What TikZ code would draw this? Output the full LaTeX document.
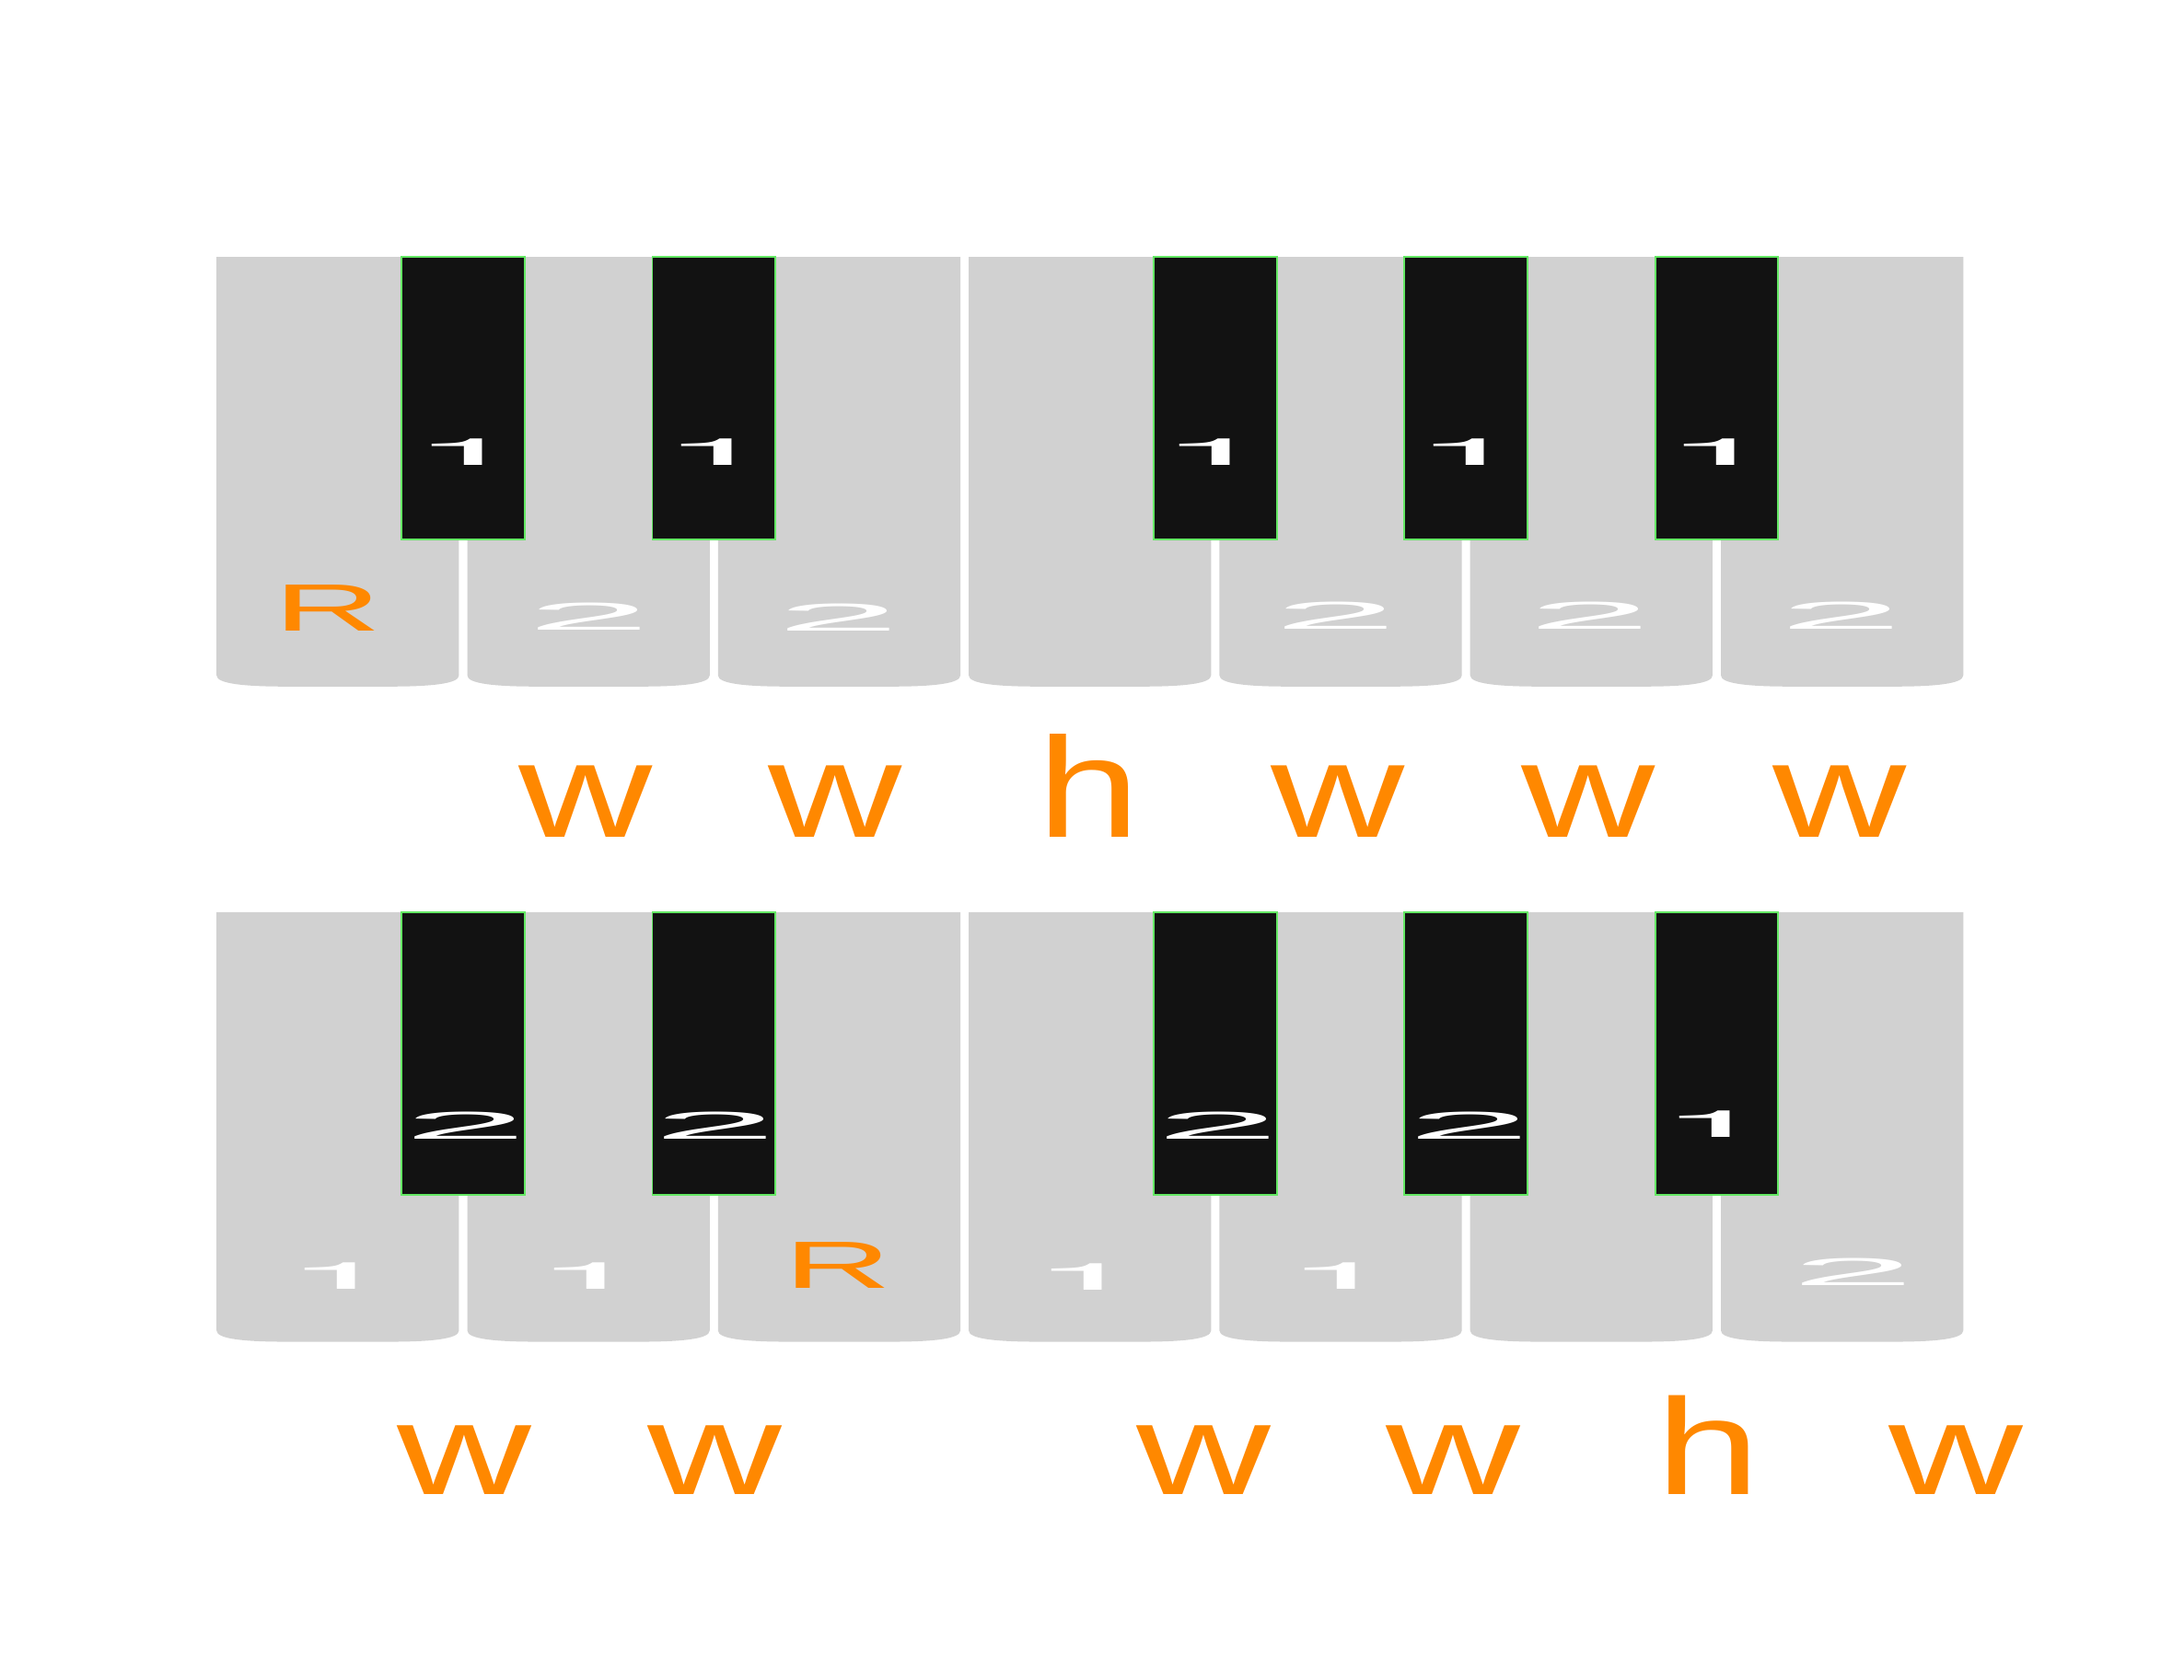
\documentclass[tikz,border=0pt]{standalone}
\usepackage{fontspec}
\setmainfont{Liberation Sans}
\newfontfamily\herosfont{TeX Gyre Heros}
\usepackage{graphicx}
\definecolor{keygray}{RGB}{209,209,209}
\definecolor{keyblack}{RGB}{18,18,18}
\definecolor{keygreen}{RGB}{100,232,100}
\definecolor{lblorange}{RGB}{255,136,0}
% white key: #1 left x, #2 top y
\newcommand\wkey[2]{%
  \fill[keygray] (#1,#2) -- (#1+174,#2) -- (#1+174,#2+300.5)
    .. controls (#1+174,#2+306.5) and (#1+154,#2+308.5) .. (#1+124,#2+308.5)
    -- (#1+50,#2+308.5)
    .. controls (#1+20,#2+308.5) and (#1,#2+306.5) .. (#1,#2+300.5) -- cycle;}
% black key: #1 left x, #2 top y
\newcommand\bkey[2]{%
  \filldraw[fill=keyblack, draw=keygreen, line width=1.2pt]
    (#1+0.6,#2) rectangle (#1+88.9,#2+203);}
\newcommand\gone{\resizebox{81.9pt}{19pt}{\herosfont 1}}
\newcommand\gtwo{\resizebox{89pt}{19.5pt}{2}}
\newcommand\gR{\resizebox{77.4pt}{33pt}{R}}
\newcommand\gw{\resizebox{95.9pt}{51.3pt}{w}}
\newcommand\gh{\resizebox{74pt}{74pt}{h}}
\newcommand\gwb{\resizebox{96.3pt}{49.4pt}{w}}
\newcommand\ghb{\resizebox{75pt}{71pt}{h}}
\begin{document}
\begin{tikzpicture}[x=1pt,y=-1pt,
  lbl/.style={inner sep=0pt, outer sep=0pt, anchor=center},
  wlbl/.style={lbl, text=white},
  olbl/.style={lbl, text=lblorange}]
\useasboundingbox (0,0) rectangle (1568,1206);
\fill[white] (0,0) rectangle (1568,1206);
% ---------- keyboards ----------
\foreach \ty in {184.5,655}{
  \foreach \i in {0,...,6}{ \wkey{155.5+180*\i}{\ty} }
  \foreach \k in {0,1,3,4,5}{ \bkey{287.7+180*\k}{\ty} }
}
% ---------- top keyboard labels ----------
\node[olbl] (tR) at (235.3,436.5) {\gR};
\node[wlbl] (tw2) at (422.8,442.5) {\gtwo};
\node[wlbl] (tw3) at (602.3,443.5) {\gtwo};
\node[wlbl] (tw5) at (958.8,442) {\gtwo};
\node[wlbl] (tw6) at (1141.8,442) {\gtwo};
\node[wlbl] (tw7) at (1321.8,442) {\gtwo};
\node[wlbl] (tb1) at (336.1,324.5) {\gone};
\node[wlbl] (tb2) at (515.1,324.5) {\gone};
\node[wlbl] (tb3) at (873.1,324.5) {\gone};
\node[wlbl] (tb4) at (1055.1,324.5) {\gone};
\node[wlbl] (tb5) at (1235.1,324.5) {\gone};
% top steps
\node[olbl] (ts1) at (420.5,575.85) {\gw};
\node[olbl] (ts2) at (599.5,575.85) {\gw};
\node[olbl] (ts3) at (782,564.5) {\gh};
\node[olbl] (ts4) at (960.5,575.85) {\gw};
\node[olbl] (ts5) at (1140.5,575.85) {\gw};
\node[olbl] (ts6) at (1320.5,575.85) {\gw};
% ---------- bottom keyboard labels ----------
\node[wlbl] (bb1) at (334.7,808) {\gtwo};
\node[wlbl] (bb2) at (513.8,808) {\gtwo};
\node[wlbl] (bb3) at (874.8,808) {\gtwo};
\node[wlbl] (bb4) at (1054.8,808) {\gtwo};
\node[wlbl] (bb5) at (1231.6,807.5) {\gone};
\node[wlbl] (bw1) at (244.6,916) {\gone};
\node[wlbl] (bw2) at (424.1,916) {\gone};
\node[olbl] (bR) at (601.8,908.5) {\gR};
\node[wlbl] (bw4) at (781.1,917) {\gone};
\node[wlbl] (bw5) at (963.1,916) {\gone};
\node[wlbl] (bw7) at (1330.3,913.5) {\gtwo};
% bottom steps
\node[olbl] (bs1) at (333.5,1048.8) {\gwb};
\node[olbl] (bs2) at (513,1048.8) {\gwb};
\node[olbl] (bs3) at (864.5,1048.8) {\gwb};
\node[olbl] (bs4) at (1043.5,1048.8) {\gwb};
\node[olbl] (bs5) at (1226.2,1038) {\ghb};
\node[olbl] (bs6) at (1404.5,1048.8) {\gwb};
\end{tikzpicture}
\end{document}
